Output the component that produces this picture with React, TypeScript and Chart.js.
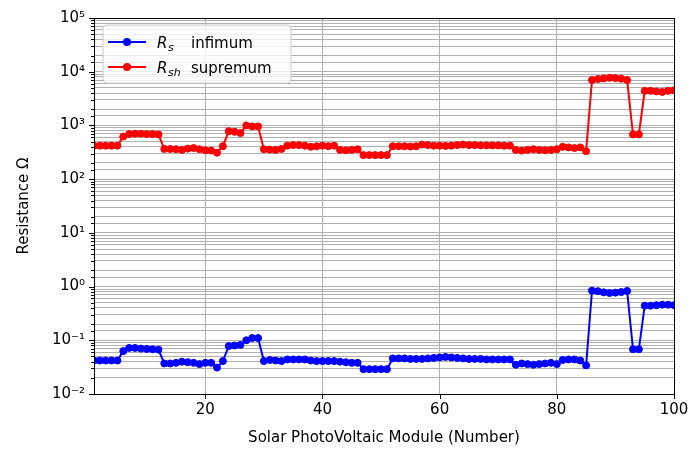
import React, { useEffect, useRef } from "react";
import { Chart, registerables } from "chart.js";

Chart.register(...registerables);

// ---------------- data ----------------
const moduleNumbers: number[] = [
  1, 2, 3, 4, 5, 6, 7, 8, 9, 10, 11, 12, 13, 14, 15, 16, 17, 18, 19, 20,
  21, 22, 23, 24, 25, 26, 27, 28, 29, 30, 31, 32, 33, 34, 35, 36, 37, 38, 39, 40,
  41, 42, 43, 44, 45, 46, 47, 48, 49, 50, 51, 52, 53, 54, 55, 56, 57, 58, 59, 60,
  61, 62, 63, 64, 65, 66, 67, 68, 69, 70, 71, 72, 73, 74, 75, 76, 77, 78, 79, 80,
  81, 82, 83, 84, 85, 86, 87, 88, 89, 90, 91, 92, 93, 94, 95, 96, 97, 98, 99, 100,
];

const rsInfimum: number[] = [
  0.042, 0.042, 0.042, 0.042, 0.042, 0.063, 0.072, 0.072, 0.07, 0.069,
  0.068, 0.067, 0.037, 0.037, 0.038, 0.04, 0.039, 0.038, 0.036, 0.038,
  0.038, 0.031, 0.041, 0.078, 0.08, 0.082, 0.1, 0.11, 0.11, 0.041,
  0.043, 0.042, 0.041, 0.044, 0.044, 0.044, 0.044, 0.042, 0.041, 0.041,
  0.041, 0.041, 0.04, 0.039, 0.038, 0.038, 0.029, 0.029, 0.029, 0.029,
  0.029, 0.046, 0.046, 0.046, 0.045, 0.045, 0.045, 0.046, 0.047, 0.048,
  0.049, 0.048, 0.047, 0.046, 0.045, 0.045, 0.045, 0.044, 0.044, 0.044,
  0.044, 0.044, 0.035, 0.037, 0.036, 0.035, 0.036, 0.037, 0.038, 0.036,
  0.043, 0.044, 0.044, 0.042, 0.034, 0.84, 0.82, 0.78, 0.76, 0.77,
  0.79, 0.83, 0.068, 0.068, 0.44, 0.44, 0.45, 0.46, 0.46, 0.45,
];

const rshSupremum: number[] = [
  420, 420, 420, 420, 420, 620, 690, 700, 700, 690,
  690, 680, 365, 365, 360, 350, 370, 380, 360, 345,
  340, 310, 410, 780, 760, 720, 1000, 960, 960, 360,
  355, 350, 365, 420, 430, 430, 420, 400, 410, 420,
  410, 420, 350, 345, 350, 360, 280, 280, 280, 280,
  280, 410, 410, 410, 405, 410, 440, 430, 420, 420,
  415, 420, 430, 440, 430, 430, 425, 425, 425, 425,
  420, 420, 350, 340, 350, 360, 350, 345, 350, 360,
  400, 390, 380, 390, 330, 7000, 7300, 7500, 7700, 7600,
  7400, 7000, 680, 680, 4400, 4400, 4300, 4200, 4400, 4500,
];

const xTickValues: number[] = [20, 40, 60, 80, 100];
const yMin = 1e-2;
const yMax = 1e5;

const seriesNames: string[] = ["infimum", "supremum"];
const seriesSymbols: string[] = ["R", "R"];
const seriesSubscripts: string[] = ["s", "sh"];
const seriesColors: string[] = ["#0000ff", "#ff0000"];

const xTitle = "Solar PhotoVoltaic Module (Number)";
const yTitle = "Resistance \u03A9";

const FONT = "'DejaVu Sans', sans-serif";

const SUP: Record<string, string> = {
  "0": "\u2070", "1": "\u00B9", "2": "\u00B2", "3": "\u00B3", "4": "\u2074",
  "5": "\u2075", "6": "\u2076", "7": "\u2077", "8": "\u2078", "9": "\u2079", "-": "\u207B",
};

function isMajor(v: number): boolean {
  const l = Math.log10(v);
  return Math.abs(l - Math.round(l)) < 1e-6;
}

function powLabel(v: number): string {
  const e = String(Math.round(Math.log10(v)));
  return "10" + e.split("").map((c) => SUP[c] || c).join("");
}

const framePlugin = {
  id: "frameAndLegend",
  afterDraw(chart: any) {
    const { ctx, chartArea: a, scales } = chart;
    ctx.save();
    ctx.strokeStyle = "#000";
    ctx.lineWidth = 1;
    const ys = scales.y;
    ys.ticks.forEach((t: any) => {
      const py = Math.round(ys.getPixelForValue(t.value)) + 0.5;
      const len = isMajor(t.value) ? 5 : 3;
      ctx.beginPath();
      ctx.moveTo(a.left - len, py);
      ctx.lineTo(a.left, py);
      ctx.stroke();
    });
    const xs = scales.x;
    xs.ticks.forEach((t: any) => {
      const px = Math.round(xs.getPixelForValue(t.value)) + 0.5;
      ctx.beginPath();
      ctx.moveTo(px, a.bottom);
      ctx.lineTo(px, a.bottom + 5);
      ctx.stroke();
    });
    ctx.strokeRect(
      Math.round(a.left) + 0.5,
      Math.round(a.top) + 0.5,
      Math.round(a.right) - Math.round(a.left),
      Math.round(a.bottom) - Math.round(a.top)
    );

    const bx = a.left + 9;
    const by = a.top + 7;
    const bw = 188;
    const bh = 58;
    const r = 4;
    ctx.beginPath();
    ctx.moveTo(bx + r, by);
    ctx.lineTo(bx + bw - r, by);
    ctx.quadraticCurveTo(bx + bw, by, bx + bw, by + r);
    ctx.lineTo(bx + bw, by + bh - r);
    ctx.quadraticCurveTo(bx + bw, by + bh, bx + bw - r, by + bh);
    ctx.lineTo(bx + r, by + bh);
    ctx.quadraticCurveTo(bx, by + bh, bx, by + bh - r);
    ctx.lineTo(bx, by + r);
    ctx.quadraticCurveTo(bx, by, bx + r, by);
    ctx.closePath();
    ctx.fillStyle = "rgba(255,255,255,0.8)";
    ctx.fill();
    ctx.strokeStyle = "#cccccc";
    ctx.stroke();

    seriesNames.forEach((name, i) => {
      const cy = by + 17 + i * 25;
      const c = seriesColors[i];
      ctx.strokeStyle = c;
      ctx.lineWidth = 2;
      ctx.beginPath();
      ctx.moveTo(bx + 5, cy);
      ctx.lineTo(bx + 43, cy);
      ctx.stroke();
      ctx.fillStyle = c;
      ctx.beginPath();
      ctx.arc(bx + 24, cy, 4, 0, Math.PI * 2);
      ctx.fill();

      ctx.fillStyle = "#000";
      ctx.textBaseline = "alphabetic";
      ctx.textAlign = "left";
      const tx = bx + 54;
      ctx.font = `italic 15px ${FONT}`;
      ctx.fillText(seriesSymbols[i], tx, cy + 5.5);
      const rw = ctx.measureText(seriesSymbols[i]).width;
      ctx.font = `italic 11px ${FONT}`;
      ctx.fillText(seriesSubscripts[i], tx + rw + 0.5, cy + 8.5);
      ctx.font = `15px ${FONT}`;
      ctx.fillText(name, bx + 88, cy + 5.5);
    });
    ctx.restore();
  },
};

export default function App() {
  const canvasRef = useRef<HTMLCanvasElement | null>(null);

  useEffect(() => {
    if (!canvasRef.current) return;
    const mk = (vals: number[], i: number) => ({
      label: seriesSubscripts[i] + " " + seriesNames[i],
      data: moduleNumbers.map((x, k) => ({ x, y: vals[k] })),
      borderColor: seriesColors[i],
      backgroundColor: seriesColors[i],
      borderWidth: 2,
      pointRadius: 3.5,
      pointBorderWidth: 1,
      pointBorderColor: seriesColors[i],
      pointBackgroundColor: seriesColors[i],
      tension: 0,
      clip: 0,
    });
    const chart = new Chart(canvasRef.current, {
      type: "line",
      data: {
        datasets: [mk(rsInfimum, 0), mk(rshSupremum, 1)],
      },
      options: {
        animation: false,
        responsive: true,
        maintainAspectRatio: false,
        layout: { padding: { left: 0, top: 18, right: 18, bottom: 0 } },
        plugins: {
          legend: { display: false },
          tooltip: { enabled: false },
        },
        scales: {
          x: {
            type: "linear",
            min: 1,
            max: 100,
            afterBuildTicks: (s: any) => {
              s.ticks = xTickValues.map((v) => ({ value: v }));
            },
            afterFit: (s: any) => {
              s.height = 56;
              s.paddingRight = 10;
              s.paddingLeft = 0;
            },
            grid: { color: "#b0b0b0", lineWidth: 1, drawTicks: false },
            border: { display: false },
            ticks: {
              color: "#000",
              font: { family: FONT, size: 15 },
              padding: 7,
              maxRotation: 0,
              autoSkip: false,
              callback: (v: any) => String(v),
            },
            title: {
              display: true,
              text: xTitle,
              color: "#000",
              font: { family: FONT, size: 15 },
              padding: { top: 0, bottom: 3 },
            },
          },
          y: {
            type: "logarithmic",
            min: yMin,
            max: yMax,
            afterFit: (s: any) => {
              s.width = 94;
              s.paddingTop = 0;
              s.paddingBottom = 0;
            },
            grid: { color: "#b0b0b0", lineWidth: 1, drawTicks: false },
            border: { display: false },
            ticks: {
              color: "#000",
              font: { family: FONT, size: 15 },
              padding: 9,
              autoSkip: false,
              callback: (v: any) => (isMajor(Number(v)) ? powLabel(Number(v)) : ""),
            },
            title: {
              display: true,
              text: yTitle,
              color: "#000",
              font: { family: FONT, size: 15 },
              padding: { top: 15, bottom: 0 },
            },
          },
        },
      },
      plugins: [framePlugin],
    } as any);
    return () => chart.destroy();
  }, []);

  return (
    <div style={{ position: "absolute", left: 0, top: 0, width: 692, height: 450, background: "#fff" }}>
      <canvas ref={canvasRef} />
    </div>
  );
}
